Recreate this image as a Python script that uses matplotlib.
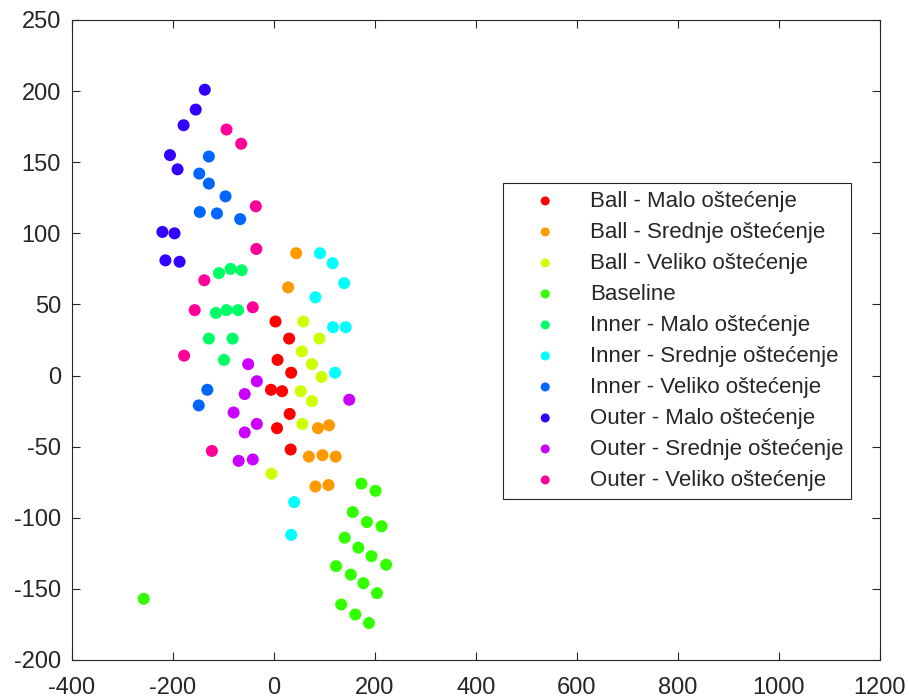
import numpy as np
import matplotlib
matplotlib.use("Agg")
import matplotlib.pyplot as plt
from matplotlib.colors import hsv_to_rgb

plt.rcParams['font.family'] = ['Liberation Sans', 'DejaVu Sans']
plt.rcParams['axes.unicode_minus'] = False

# ── data ──────────────────────────────────────────────────────────
labels = [
    "Ball - Malo oštećenje",
    "Ball - Srednje oštećenje",
    "Ball - Veliko oštećenje",
    "Baseline",
    "Inner - Malo oštećenje",
    "Inner - Srednje oštećenje",
    "Inner - Veliko oštećenje",
    "Outer - Malo oštećenje",
    "Outer - Srednje oštećenje",
    "Outer - Veliko oštećenje",
]

ball_malo_x = [3, 30, 7, 34, -6, 16, 31, 6, 33]
ball_malo_y = [38, 26, 11, 2, -10, -11, -27, -37, -52]

ball_srednje_x = [44, 28, 87, 109, 69, 96, 122, 82, 108]
ball_srednje_y = [86, 62, -37, -35, -57, -56, -57, -78, -77]

ball_veliko_x = [58, 90, 55, 75, 94, 53, 75, 56, -5]
ball_veliko_y = [38, 26, 17, 8, -1, -11, -18, -34, -69]

baseline_x = [173, 201, 156, 184, 213, 140, 167, 193, 222, 123, 152, 177, 204, 133, 161, 188, -258]
baseline_y = [-76, -81, -96, -103, -106, -114, -121, -127, -133, -134, -140, -146, -153, -161, -168, -174, -157]

inner_malo_x = [-109, -86, -64, -115, -94, -71, -129, -82, -99]
inner_malo_y = [72, 75, 74, 44, 46, 46, 26, 26, 11]

inner_srednje_x = [91, 116, 139, 82, 117, 142, 121, 40, 34]
inner_srednje_y = [86, 79, 65, 55, 34, 34, 2, -89, -112]

inner_veliko_x = [-129, -148, -129, -96, -147, -113, -67, -132, -149]
inner_veliko_y = [154, 142, 135, 126, 115, 114, 110, -10, -21]

outer_malo_x = [-137, -155, -179, -206, -191, -221, -197, -215, -187]
outer_malo_y = [201, 187, 176, 155, 145, 101, 100, 81, 80]

outer_srednje_x = [-51, -34, -58, -80, -34, -58, -70, -42, 149]
outer_srednje_y = [8, -4, -13, -26, -34, -40, -60, -59, -17]

outer_veliko_x = [-94, -65, -36, -35, -138, -157, -42, -178, -123]
outer_veliko_y = [173, 163, 119, 89, 67, 46, 48, 14, -53]

xs = [ball_malo_x, ball_srednje_x, ball_veliko_x, baseline_x, inner_malo_x,
      inner_srednje_x, inner_veliko_x, outer_malo_x, outer_srednje_x, outer_veliko_x]
ys = [ball_malo_y, ball_srednje_y, ball_veliko_y, baseline_y, inner_malo_y,
      inner_srednje_y, inner_veliko_y, outer_malo_y, outer_srednje_y, outer_veliko_y]

# MATLAB-like hsv(10) colours
colors = [hsv_to_rgb((h, 1, 1)) for h in np.arange(10) / 10]

# ── plot ──────────────────────────────────────────────────────────
fig = plt.figure(figsize=(9.09, 6.99), dpi=100)
ax = fig.add_axes([72 / 909, 1 - 660 / 699, (880 - 72) / 909, (660 - 20) / 699])

for x, y, c, lab in zip(xs, ys, colors, labels):
    ax.scatter(x, y, s=75, color=c, edgecolors='none', label=lab)

ax.set_xlim(-400, 1200)
ax.set_ylim(-200, 250)
ax.set_xticks(np.arange(-400, 1201, 200))
ax.set_yticks(np.arange(-200, 251, 50))

dark = (0.15, 0.15, 0.15)
for sp in ax.spines.values():
    sp.set_color(dark)
    sp.set_linewidth(0.8)
ax.tick_params(direction='in', length=5.5, width=0.8, color=dark,
               labelcolor=dark, labelsize=17, top=True, right=True)
ax.tick_params(axis='y', pad=8)
ax.tick_params(axis='x', pad=12)

leg = ax.legend(loc='upper left', bbox_to_anchor=(503 / 909, 1 - 183 / 699),
                bbox_transform=fig.transFigure, fontsize=16, frameon=True,
                fancybox=False, edgecolor=dark, framealpha=1,
                markerscale=0.75, labelspacing=0.45, handletextpad=0.45,
                borderpad=0.35, borderaxespad=0, handlelength=3.1)
leg.get_frame().set_linewidth(0.8)
for t in leg.get_texts():
    t.set_color(dark)

plt.savefig('out.png', dpi=100)
